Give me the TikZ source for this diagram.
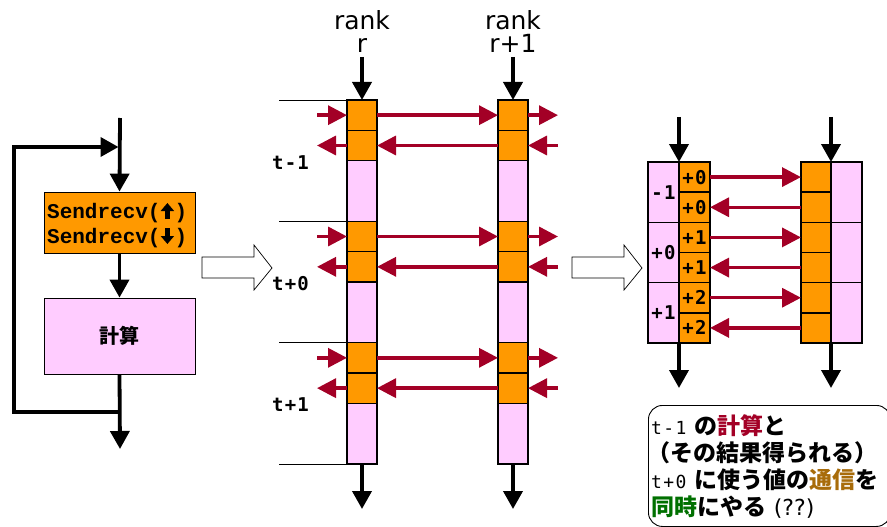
\documentclass[tikz,border=0pt]{standalone}
\usepackage{fontspec}
\setmainfont{DejaVu Sans}
\newfontfamily\jp{Noto Sans CJK JP}
\newfontfamily\cour{Liberation Mono}
\newfontfamily\mono{DejaVu Sans Mono}[LetterSpace=8]
\newfontfamily\monosp{DejaVu Sans Mono}[LetterSpace=6]
\usetikzlibrary{arrows.meta}
\definecolor{org}{RGB}{255,153,0}
\definecolor{pnk}{RGB}{255,204,255}
\definecolor{dred}{RGB}{163,0,38}
\definecolor{gold}{RGB}{168,108,10}
\definecolor{grn}{RGB}{0,112,0}
\begin{document}
\begin{tikzpicture}[x=1pt,y=-1pt,
  blk/.style={-{Triangle[length=18pt,width=19pt]}, line width=3.8pt},
  redarr/.style={draw=dred,-{Triangle[length=19pt,width=19pt]}, line width=3.4pt, dred},
  cellbase/.style={draw, line width=1.4pt, minimum width=30pt, inner sep=0pt, outer sep=0pt, anchor=north west},
  ocell/.style={cellbase, fill=org, minimum height=30.33pt},
  pcell/.style={cellbase, fill=pnk, minimum height=60.67pt},
  hollow/.style={draw, line width=0.7pt, fill=white},
  labfont/.style={font=\monosp\bfseries\fontsize{19}{20}\selectfont},
  tlab/.style={labfont, inner sep=0pt},
  flowbox/.style={draw, line width=0.8pt, minimum width=151pt, inner sep=0pt},
  sfont/.style={font=\cour\bfseries\fontsize{21}{25}\selectfont, inner sep=0pt, anchor=base west},
  smallarr/.style={line width=4.4pt, -{Triangle[length=8pt,width=13pt]}},
  rlab/.style={font=\fontsize{25}{23}\selectfont, align=center, inner sep=0pt},
  thin/.style={line width=0.8pt}
]
\useasboundingbox (0,0) rectangle (887,527);

% ---------- left flowchart ----------
\node[flowbox, fill=org, minimum height=61pt] (send) at (119.5,222.5) {};
\node[sfont] (s1) at (47,218) {Sendrecv(\hspace{14pt})};
\node[sfont] (s2) at (47,243) {Sendrecv(\hspace{14pt})};
\draw[smallarr] ([xshift=120.4pt,yshift=-1pt]s1.base west) -- ([xshift=120.4pt,yshift=15pt]s1.base west);
\draw[smallarr] ([xshift=120.4pt,yshift=15pt]s2.base west) -- ([xshift=120.4pt,yshift=-1pt]s2.base west);
\node[flowbox, fill=pnk, minimum height=76pt, font=\jp\bfseries\fontsize{20}{22}\selectfont] (calc) at (119.5,336) {計算};
\coordinate (ftop) at (120,118);
\coordinate (fj1) at (120,147);
\coordinate (fj2) at (120,412);
\coordinate (fbot) at (120,449);
\coordinate (lb) at (14,412);
\coordinate (lt) at (14,147);
\draw[blk] (ftop) -- (send.north);
\draw[blk] (send.south) -- (calc.north);
\draw[blk] (calc.south) -- (fbot);
\draw[blk, line join=miter] (fj2) -- (lb) -- (lt) -- ([xshift=-1.5pt]fj1);

% hollow arrows
\draw[hollow] (202,257) -- (254,257) -- (254,245) -- (272,268) -- (254,290) -- (254,278) -- (202,278) -- cycle;
\draw[hollow] (572,257) -- (624,257) -- (624,245) -- (642,268) -- (624,290) -- (624,278) -- (572,278) -- cycle;

% ---------- middle: time line ----------
\foreach \c/\x in {L/347,R/498}{
  \foreach \b in {0,1,2}{
    \pgfmathsetmacro{\yy}{100+121.33*\b}
    \node[ocell] (\c a\b) at (\x,\yy) {};
    \node[ocell] (\c b\b) at (\x,\yy+30.33) {};
    \node[pcell] (\c p\b) at (\x,\yy+60.67) {};
  }
}
% thin separator lines
\foreach \n in {La0,La1,La2}{
  \draw[thin] ([xshift=-68pt]\n.north west) -- (\n.north west);
}
\draw[thin] ([xshift=-68pt]Lp2.south west) -- (Lp2.south west);

% rank labels
\node[rlab] (rankL) at (362,32) {rank\\r};
\node[rlab] (rankR) at (513,32) {rank\\r+1};
\coordinate (rLs) at (362,57);
\coordinate (rRs) at (513,57);
\draw[blk] (rLs) -- (La0.north);
\draw[blk] (rRs) -- (Ra0.north);
\coordinate (eL) at (362,509);
\coordinate (eR) at (513,509);
\draw[blk] (Lp2.south) -- (eL);
\draw[blk] (Rp2.south) -- (eR);

% red exchange arrows
\foreach \b in {0,1,2}{
  \draw[redarr] ([xshift=-30pt]La\b.west) -- (La\b.west);
  \draw[redarr] (La\b.east) -- (Ra\b.west);
  \draw[redarr] (Ra\b.east) -- ([xshift=30pt]Ra\b.east);
  \draw[redarr] (Lb\b.west) -- ([xshift=-30pt]Lb\b.west);
  \draw[redarr] (Rb\b.west) -- (Lb\b.east);
  \draw[redarr] ([xshift=30pt]Rb\b.east) -- (Rb\b.east);
}

% t labels
\node[tlab, anchor=west] (tm1) at (272,163) {t-1};
\node[tlab, anchor=west] (tp0) at (272,284) {t+0};
\node[tlab, anchor=west] (tp1) at (272,405) {t+1};

% ---------- right diagram ----------
\foreach \i/\lab in {0/-1,1/+0,2/+1}{
  \pgfmathsetmacro{\yy}{162+60.33*\i}
  \node[cellbase, fill=pnk, minimum width=31pt, minimum height=60.33pt, labfont] (P\i) at (648,\yy) {\lab};
  \node[cellbase, fill=org, minimum width=31pt, minimum height=30.17pt, labfont] (A\i) at (679,\yy) {+\the\numexpr\i\relax};
  \node[cellbase, fill=org, minimum width=31pt, minimum height=30.17pt, labfont] (B\i) at (679,\yy+30.17) {+\the\numexpr\i\relax};
  \node[cellbase, fill=org, minimum width=30pt, minimum height=30.17pt] (C\i) at (801,\yy) {};
  \node[cellbase, fill=org, minimum width=30pt, minimum height=30.17pt] (D\i) at (801,\yy+30.17) {};
  \node[cellbase, fill=pnk, minimum width=31pt, minimum height=60.33pt] (Q\i) at (831,\yy) {};
  \draw[redarr] (A\i.east) -- (C\i.west);
  \draw[redarr] (D\i.west) -- (B\i.east);
}
\coordinate (qLt) at (679,117);
\coordinate (qRt) at (831,117);
\coordinate (qLb) at (679,388);
\coordinate (qRb) at (831,388);
\draw[blk] (qLt) -- (A0.north west);
\draw[blk] (qRt) -- (C0.north east);
\draw[blk] (B2.south west) -- (qLb);
\draw[blk] (D2.south east) -- (qRb);

% ---------- note box ----------
\node[draw, line width=0.9pt, rounded corners=14pt, anchor=north west,
      minimum width=242pt, minimum height=121pt, inner sep=0pt] (note) at (648,405) {};
\node[anchor=north west, inner sep=0pt, text width=240pt, align=left,
      font=\jp\bfseries\fontsize{23}{27}\selectfont] (notetext) at (651,414)
  {{\mono\mdseries\fontsize{18}{20}\selectfont t-1} の{\color{dred}計算}と\\
   \hspace*{-4pt}（その結果得られる）\\
   {\mono\mdseries\fontsize{18}{20}\selectfont t+0} に使う値の{\color{gold}通信}を\\
   {\color{grn}同時}にやる {\fontspec{DejaVu Sans}\mdseries\fontsize{22}{22}\selectfont(??)}};
\end{tikzpicture}
\end{document}
